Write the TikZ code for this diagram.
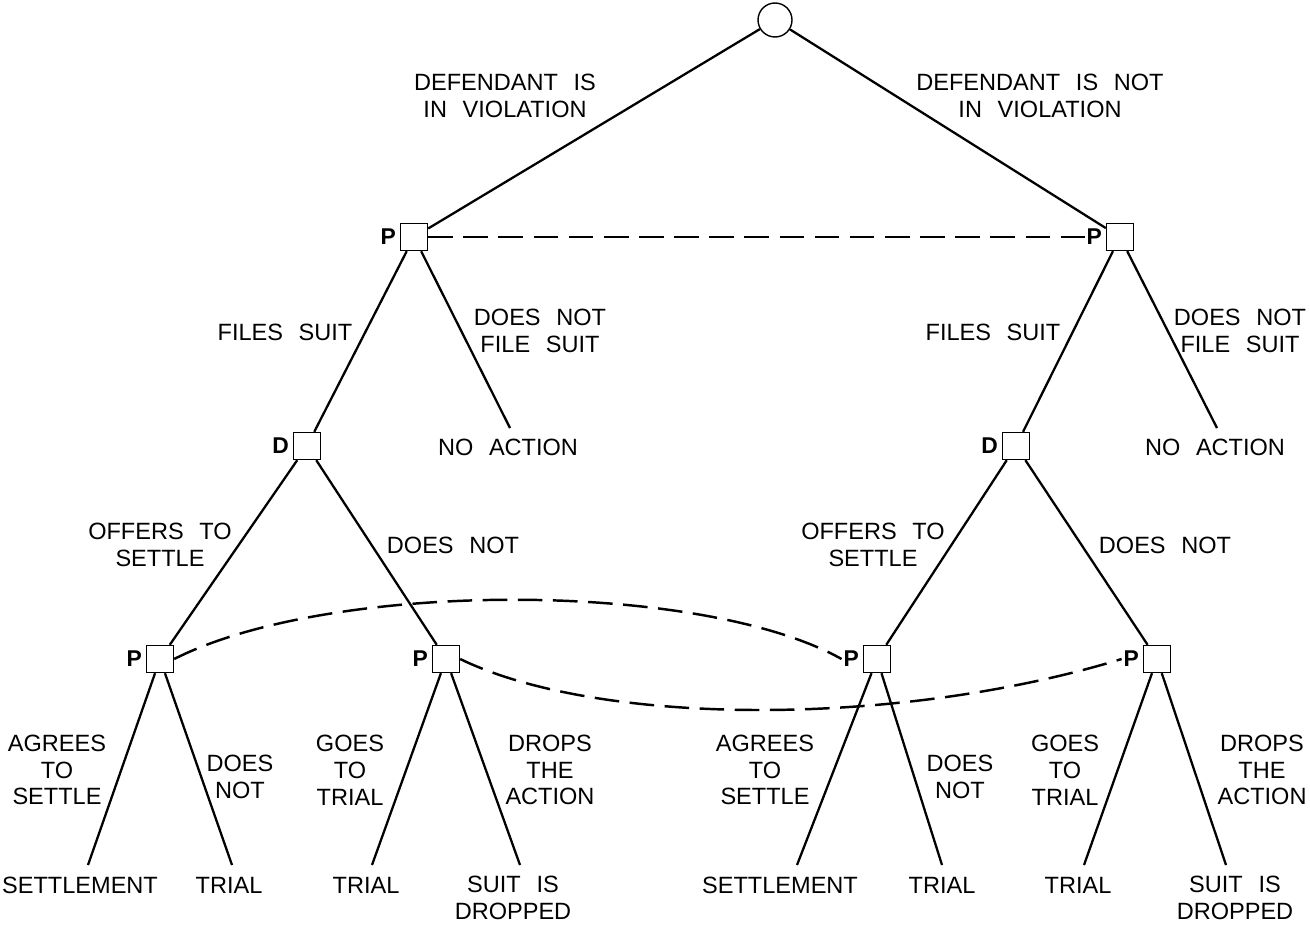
\documentclass[tikz,border=0pt]{standalone}
\usepackage{fontspec}
\setmainfont{Liberation Sans}[WordSpace=2.4]
\usetikzlibrary{calc}

\begin{document}
\begin{tikzpicture}[x=0.02cm,y=-0.02cm]
\tikzstyle{box}=[draw, rectangle, fill=white, minimum size=0.54cm, inner sep=0pt, line width=0.8pt]
\tikzstyle{chance}=[draw, circle, fill=white, minimum size=0.68cm, inner sep=0pt, line width=0.8pt]
\tikzstyle{lab}=[font=\fontsize{13.4}{15.3}\selectfont, align=center, inner sep=1pt]
\tikzstyle{who}=[font=\fontsize{13}{13}\selectfont\bfseries, inner sep=1pt, label distance=1pt]
\tikzstyle{branch}=[line width=1.3pt]
\tikzstyle{info}=[line width=1.4pt, dash pattern=on 14pt off 6pt]
\useasboundingbox (0,0) rectangle (1310,926);

% Nature: violation or not
\node[chance] (Nature) at (775,20) {};

% Plaintiff decides whether to sue
\node[box, label={[who,name=P left tag]left:P}] (P left) at (414,237) {};
\node[box, label={[who,name=P right tag]left:P}] (P right) at (1120,237) {};

% Defendant decides whether to offer
\node[box, label={[who]left:D}] (D left) at (307,446) {};
\node[box, label={[who]left:D}] (D right) at (1016,446) {};

% Plaintiff answers the offer
\node[box, label={[who]left:P}] (P1) at (160,659) {};
\node[box, label={[who]left:P}] (P2) at (446,659) {};
\node[box, label={[who,name=P3 tag]left:P}] (P3) at (877,659) {};
\node[box, label={[who,name=P4 tag]left:P}] (P4) at (1157,659) {};

% ends of the branches
\coordinate (no action left end) at (510,428);
\coordinate (no action right end) at (1217,428);
\coordinate (end1) at (88,865);
\coordinate (end2) at (232,865);
\coordinate (end3) at (372,865);
\coordinate (end4) at (520,865);
\coordinate (end5) at (797,865);
\coordinate (end6) at (942,865);
\coordinate (end7) at (1084,865);
\coordinate (end8) at (1226,865);

% outcomes
\node[lab] (no action left) at (508,447) {NO ACTION};
\node[lab] (no action right) at (1215,447) {NO ACTION};
\node[lab] (out1) at (80,885) {SETTLEMENT};
\node[lab] (out2) at (229,885) {TRIAL};
\node[lab] (out3) at (366,885) {TRIAL};
\node[lab] (out4) at (513,898) {SUIT IS\\DROPPED};
\node[lab] (out5) at (780,885) {SETTLEMENT};
\node[lab] (out6) at (942,885) {TRIAL};
\node[lab] (out7) at (1078,885) {TRIAL};
\node[lab] (out8) at (1235,898) {SUIT IS\\DROPPED};

% branches
\draw[branch] (Nature) -- (P left);
\draw[branch] (Nature) -- (P right);
\draw[branch] (P left) -- (D left);
\draw[branch] (P left) -- (no action left end);
\draw[branch] (P right) -- (D right);
\draw[branch] (P right) -- (no action right end);
\draw[branch] (D left) -- (P1);
\draw[branch] (D left) -- (P2);
\draw[branch] (D right) -- (P3);
\draw[branch] (D right) -- (P4);
\draw[branch] (P1) -- (end1);
\draw[branch] (P1) -- (end2);
\draw[branch] (P2) -- (end3);
\draw[branch] (P2) -- (end4);
\draw[branch] (P3) -- (end5);
\draw[branch] (P3) -- (end6);
\draw[branch] (P4) -- (end7);
\draw[branch] (P4) -- (end8);

% information sets
\draw[info] (P left.east) -- (P right tag.west);
\draw[info] (P1.east) .. controls (330,580) and (700,580) .. (P3 tag.west);
\draw[info] (P2.east) .. controls (600,727) and (900,727) .. (P4 tag.west);

% labels on branches
\node[lab] (viol) at (505,96) {DEFENDANT IS\\IN VIOLATION};
\node[lab] (no viol) at (1040,96) {DEFENDANT IS NOT\\IN VIOLATION};
\node[lab] (files left) at (285,332) {FILES SUIT};
\node[lab] (nofile left) at (540,331) {DOES NOT\\FILE SUIT};
\node[lab] (files right) at (993,332) {FILES SUIT};
\node[lab] (nofile right) at (1240,331) {DOES NOT\\FILE SUIT};
\node[lab] (offer left) at (160,545) {OFFERS TO\\SETTLE};
\node[lab] (nooffer left) at (453,545) {DOES NOT};
\node[lab] (offer right) at (873,545) {OFFERS TO\\SETTLE};
\node[lab] (nooffer right) at (1165,545) {DOES NOT};
\node[lab] (agree1) at (57,770) {AGREES\\TO\\SETTLE};
\node[lab] (refuse1) at (240,777) {DOES\\NOT};
\node[lab] (trial1) at (350,770) {GOES\\TO\\TRIAL};
\node[lab] (drop1) at (550,770) {DROPS\\THE\\ACTION};
\node[lab] (agree2) at (765,770) {AGREES\\TO\\SETTLE};
\node[lab] (refuse2) at (960,777) {DOES\\NOT};
\node[lab] (trial2) at (1065,770) {GOES\\TO\\TRIAL};
\node[lab] (drop2) at (1262,770) {DROPS\\THE\\ACTION};

\end{tikzpicture}
\end{document}
